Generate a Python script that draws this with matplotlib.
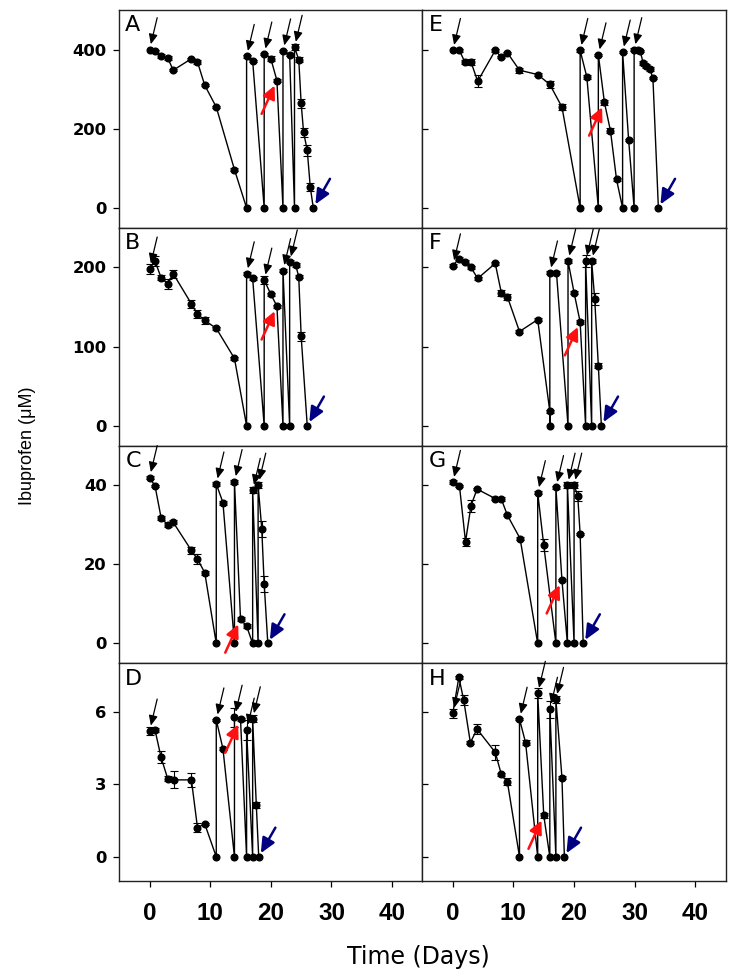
import numpy as np
import matplotlib
matplotlib.use("Agg")
import matplotlib.pyplot as plt

# ibuprofen concentration vs time, 8 reactors (A-D left, E-H right)
days_A = [0, 0.9, 1.9, 3.0, 3.9, 6.9, 7.9, 9.1, 11.0, 14.0, 16.0, 16.0, 17.0, 18.9, 18.9, 20.0, 21.0,
          22.0, 22.0, 23.1, 23.9, 23.9, 24.6, 25.0, 25.4, 26.0, 26.5, 27.0]
conc_A = [400, 396, 383, 379, 348, 377, 369, 310, 255, 97, 0, 383, 372, 0, 389, 377, 322,
          0, 397, 386, 0, 406, 375, 264, 191, 146, 53, 0]
err_A = [0, 4, 5, 5, 3, 3, 5, 3, 3, 3, 0, 3, 3, 0, 3, 6, 3, 0, 3, 3, 0, 8, 6, 12, 12, 14, 10, 0]

days_B = [0, 0.9, 1.9, 3.0, 3.9, 6.9, 7.9, 9.1, 11.0, 14.0, 16.0, 16.0, 17.0, 18.9, 18.9, 20.0, 21.0,
          22.0, 22.0, 23.1, 23.1, 24.1, 24.6, 25.0, 26.0]
conc_B = [198, 208, 187, 179, 192, 154, 141, 133, 123, 85, 0, 192, 186, 0, 184, 166, 151,
          0, 196, 0, 207, 203, 188, 113, 0]
err_B = [6, 6, 3, 6, 5, 5, 5, 4, 2, 2, 0, 2, 2, 0, 5, 2, 2, 0, 2, 0, 2, 2, 2, 6, 0]

days_C = [0, 0.9, 1.9, 3.0, 3.9, 6.9, 7.9, 9.1, 11.0, 11.0, 12.1, 14.0, 14.0, 15.0, 16.0, 17.0, 17.0,
          17.9, 17.9, 18.5, 18.9, 19.5]
conc_C = [41.9, 39.8, 31.8, 29.9, 30.6, 23.5, 21.3, 17.9, 0, 40.3, 35.6, 0, 40.9, 6.1, 4.4, 0, 38.7,
          0, 40.0, 29.0, 15.1, 0]
err_C = [0.3, 0.3, 0.5, 0.5, 0.5, 0.8, 1.2, 0.5, 0, 0.5, 0.5, 0, 0.5, 0.5, 0.5, 0, 0.8,
         0, 0.8, 2.0, 2.0, 0]

days_D = [0, 0.9, 1.9, 3.0, 4.0, 6.9, 7.9, 9.1, 11.0, 11.0, 12.1, 14.0, 14.0, 15.0, 16.0, 16.0,
          17.0, 17.0, 17.6, 18.0]
conc_D = [5.20, 5.24, 4.11, 3.22, 3.18, 3.18, 1.21, 1.36, 0, 5.66, 4.47, 0, 5.77, 5.68, 0, 5.24,
          0, 5.71, 2.15, 0]
err_D = [0.15, 0.1, 0.25, 0.1, 0.35, 0.3, 0.2, 0.05, 0, 0.05, 0.05, 0, 0.4, 0.05, 0, 0.4,
         0, 0.15, 0.12, 0]

days_E = [0, 1.1, 2.0, 3.0, 4.1, 7.0, 8.0, 9.0, 11.0, 14.0, 16.0, 18.0, 21.0, 21.0, 22.1, 24.0, 24.0,
          25.0, 26.0, 27.0, 28.0, 28.0, 29.0, 29.9, 29.9, 30.5, 30.9, 31.4, 31.9, 32.5, 33.0, 33.9]
conc_E = [398, 398, 368, 369, 320, 398, 381, 392, 348, 337, 312, 255, 0, 398, 331, 0, 387,
          267, 195, 72, 0, 394, 171, 0, 400, 400, 396, 366, 359, 351, 328, 0]
err_E = [0, 3, 5, 8, 15, 3, 3, 3, 6, 3, 8, 8, 0, 3, 5, 0, 3, 6, 6, 3, 0, 3, 3, 0, 3, 3, 3, 5, 5, 5, 3, 0]

days_F = [0, 1.0, 2.0, 3.0, 4.1, 7.0, 8.0, 9.0, 11.0, 14.0, 16.0, 16.0, 16.0, 17.1, 19.0, 19.0, 20.0,
          21.0, 21.9, 21.9, 22.9, 22.9, 23.4, 24.0, 24.5]
conc_F = [202, 211, 207, 200, 186, 205, 168, 163, 119, 134, 18, 0, 193, 193, 0, 208, 168,
          131, 0, 208, 0, 208, 160, 76, 0]
err_F = [2, 2, 2, 2, 2, 2, 4, 4, 2, 2, 2, 0, 2, 2, 0, 2, 2, 2, 0, 8, 0, 2, 8, 3, 0]

days_G = [0, 1.1, 2.1, 3.0, 4.0, 7.0, 8.0, 9.0, 11.1, 14.0, 14.0, 15.0, 17.0, 17.0, 18.0, 18.9, 18.9,
          20.0, 20.0, 20.6, 21.0, 21.5]
conc_G = [40.7, 39.8, 25.7, 34.8, 39.0, 36.6, 36.5, 32.4, 26.5, 0, 38.1, 24.8, 0, 39.4, 16.0, 0, 40.0,
          0, 40.0, 37.3, 27.6, 0]
err_G = [0.5, 0.3, 1.0, 1.5, 0.3, 0.3, 0.5, 0.3, 0.3, 0, 0.3, 1.5, 0, 0.3, 0.3, 0, 0.8,
         0, 0.8, 1.2, 0.3, 0]

days_H = [0, 1.0, 1.8, 2.9, 4.0, 7.0, 8.0, 9.0, 11.0, 11.0, 12.0, 14.0, 14.0, 15.0, 16.0, 16.0,
          17.0, 17.0, 18.0, 18.4]
conc_H = [5.93, 7.42, 6.48, 4.72, 5.28, 4.32, 3.41, 3.10, 0, 5.69, 4.72, 0, 6.76, 1.71, 0, 6.10,
          0, 6.51, 3.27, 0]
err_H = [0.2, 0.05, 0.2, 0.05, 0.2, 0.3, 0.05, 0.15, 0, 0.05, 0.1, 0, 0.2, 0.1, 0, 0.35,
         0, 0.15, 0.05, 0]

# index of the point the red arrow marks
red_idx = {'A': 16, 'B': 16, 'C': 13, 'D': 13, 'E': 17, 'F': 17, 'G': 14, 'H': 13}

ylims = {'A': (-50, 500), 'B': (-25, 250), 'C': (-5, 50), 'D': (-1, 8)}
yticks = {'A': [0, 200, 400], 'B': [0, 100, 200], 'C': [0, 20, 40], 'D': [0, 3, 6]}
xticks = [0, 10, 20, 30, 40]

data = {'A': (days_A, conc_A, err_A), 'B': (days_B, conc_B, err_B),
        'C': (days_C, conc_C, err_C), 'D': (days_D, conc_D, err_D),
        'E': (days_E, conc_E, err_E), 'F': (days_F, conc_F, err_F),
        'G': (days_G, conc_G, err_G), 'H': (days_H, conc_H, err_H)}
layout = [['A', 'E'], ['B', 'F'], ['C', 'G'], ['D', 'H']]

fig, axes = plt.subplots(4, 2, figsize=(7.36, 9.75), dpi=100)
fig.subplots_adjust(left=0.162, right=0.986, top=0.9897, bottom=0.0964, hspace=0, wspace=0)

for r in range(4):
    for c in range(2):
        ax = axes[r, c]
        key = layout[r][c]
        x, y, e = [np.array(v, dtype=float) for v in data[key]]
        ax.plot(x, y, '-o', color='k', ms=4.8, lw=1.0, zorder=3)
        m = e > 0
        ax.errorbar(x[m], y[m], yerr=e[m], fmt='none', ecolor='k', elinewidth=0.8,
                    capsize=2.8, capthick=0.8, zorder=2)

        # black arrows at each (re)dosing
        doses = [0] + [i for i in range(1, len(x)) if x[i] == x[i - 1] and y[i - 1] == 0 and y[i] > 0]
        for i in doses:
            ax.annotate('', xy=(x[i], y[i]), xytext=(5.5, 23), textcoords='offset points',
                        arrowprops=dict(arrowstyle='-|>,head_length=0.5,head_width=0.22',
                                        mutation_scale=12, color='k', lw=0.9,
                                        shrinkA=0, shrinkB=4), zorder=4)
        # red arrow
        j = red_idx[key]
        ax.annotate('', xy=(x[j], y[j]), xytext=(-11, -24), textcoords='offset points',
                    arrowprops=dict(arrowstyle='-|>,head_length=0.65,head_width=0.32',
                                    mutation_scale=12, color='#ff1010', lw=1.8,
                                    shrinkA=0, shrinkB=4), zorder=4)
        # blue arrow at end
        ax.annotate('', xy=(x[-1], y[-1]), xytext=(12, 21), textcoords='offset points',
                    arrowprops=dict(arrowstyle='-|>,head_length=0.75,head_width=0.34',
                                    mutation_scale=12, color='#000080', lw=1.8,
                                    shrinkA=0, shrinkB=3), zorder=4)

        ax.set_xlim(-5, 45)
        ax.set_ylim(*ylims[layout[r][0]])
        ax.set_yticks(yticks[layout[r][0]])
        ax.set_xticks(xticks)
        for s in ax.spines.values():
            s.set_linewidth(1.0)
            s.set_color('#222222')
        ax.tick_params(axis='x', direction='out', length=4, width=0.9, pad=11)
        if c == 0:
            ax.tick_params(axis='y', direction='out', length=4, width=0.9, pad=5)
            for t in ax.get_yticklabels():
                t.set_fontfamily('DejaVu Sans')
                t.set_fontweight('bold')
                t.set_fontsize(11.8)
        else:
            ax.tick_params(axis='y', direction='in', length=4.5, width=0.9, labelleft=False)
        if r < 3:
            ax.tick_params(axis='x', labelbottom=False)
        else:
            for t in ax.get_xticklabels():
                t.set_fontfamily(['Liberation Sans', 'DejaVu Sans'])
                t.set_fontweight('bold')
                t.set_fontsize(17.5)
        ax.text(0.02, 0.975, key, transform=ax.transAxes, ha='left', va='top',
                fontsize=16, family='DejaVu Sans')

fig.text(0.037, 0.543, 'Ibuprofen (\u03bcM)', rotation=90, ha='center', va='center',
         fontsize=13, family=['Liberation Sans Narrow', 'Liberation Sans', 'DejaVu Sans'])
fig.text(0.569, 0.018, 'Time (Days)', ha='center', va='center', fontsize=17, family='DejaVu Sans')

fig.savefig('out.png', dpi=100)
